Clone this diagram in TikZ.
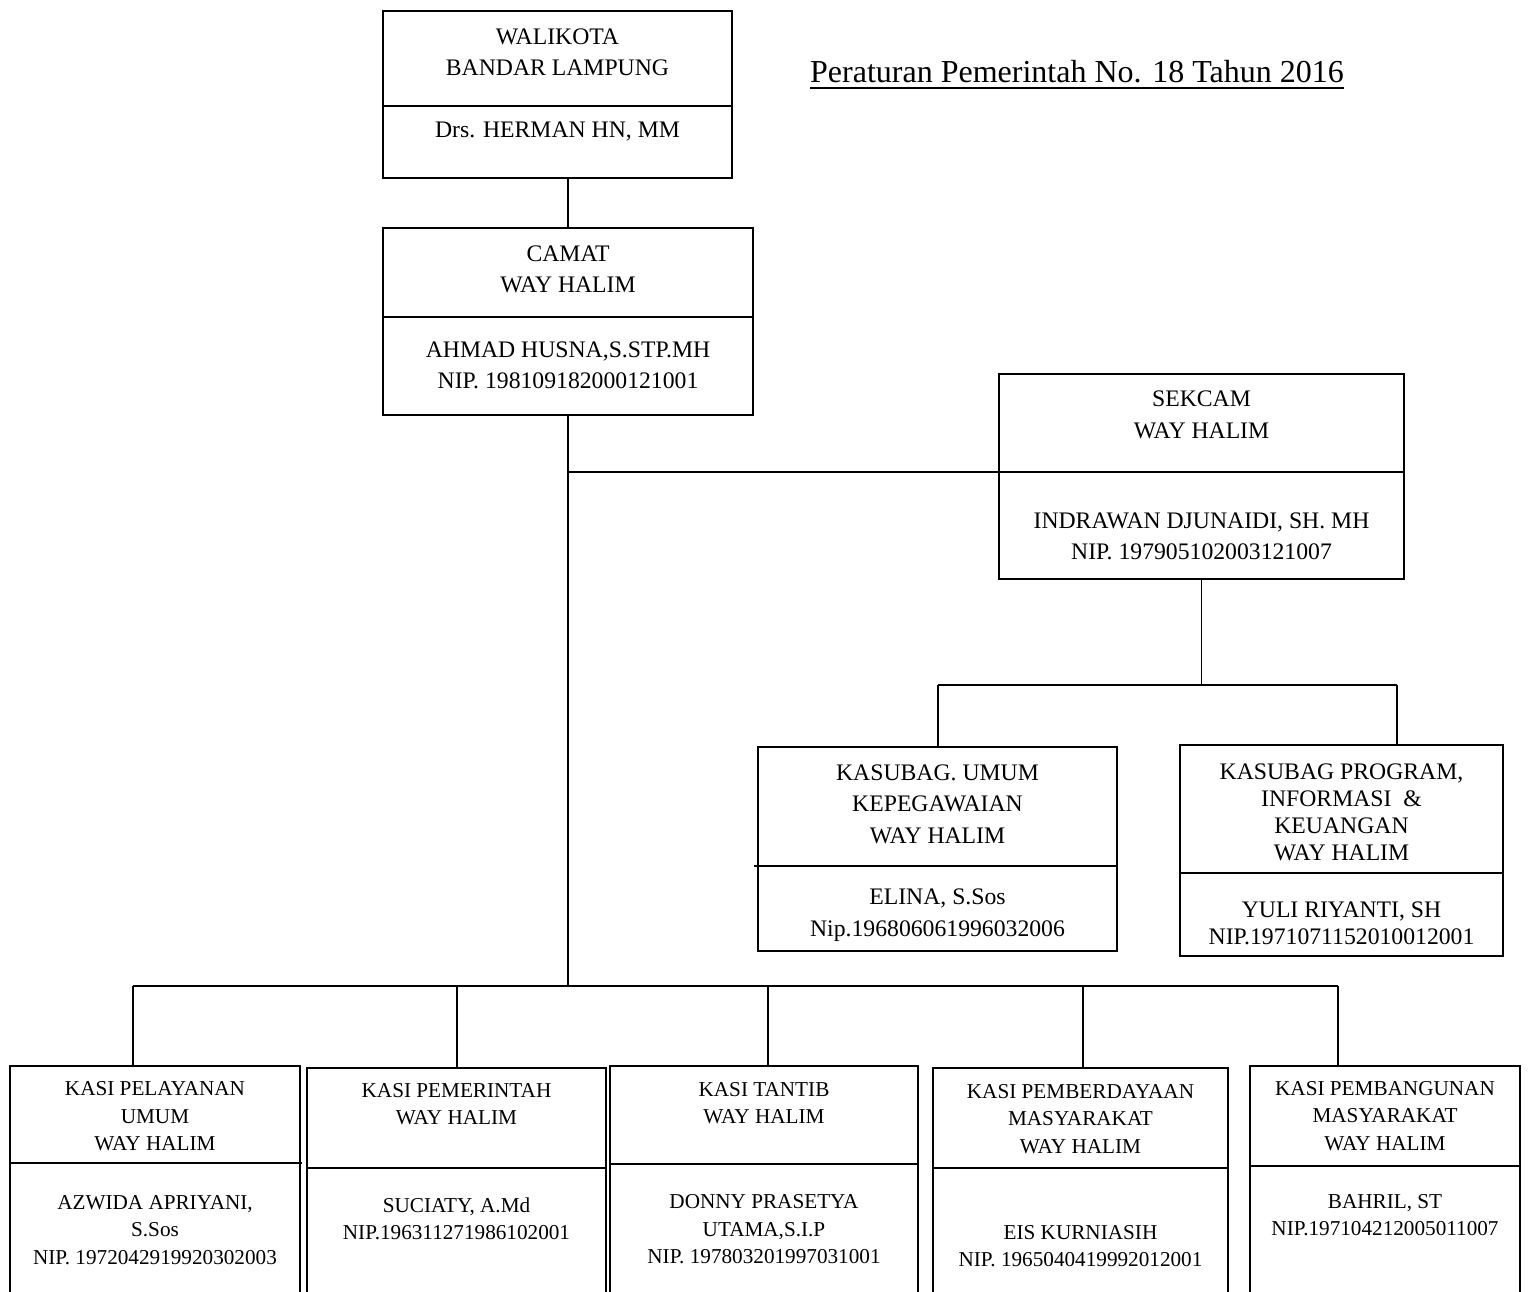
\documentclass[tikz,border=0pt]{standalone}
\usepackage{fontspec}
\setmainfont{Liberation Serif}
\usepackage[dvipsnames]{xcolor}
\usepackage{tikz}
\usetikzlibrary{calc, positioning}
\tikzset{
  box/.style={draw, line width=1.8pt, anchor=north west, inner sep=0pt, outer sep=0pt},
  garis/.style={line width=1.8pt},
  txt/.style={align=center, inner sep=0pt, font=\fontsize{23.7}{31.5}\selectfont},
  txtr/.style={align=center, inner sep=0pt, font=\fontsize{23.7}{27}\selectfont},
  txts/.style={align=center, inner sep=0pt, font=\fontsize{21.2}{27.5}\selectfont},
}

\begin{document}
\begin{tikzpicture}[x=1pt, y=-1pt]
  \useasboundingbox (0,0) rectangle (1530,1291);
  \clip (0,0) rectangle (1530,1291);

  % judul
  \node[inner sep=0pt, anchor=base, font=\fontsize{32}{36}\selectfont] (judul) at (1077,82)
    {Peraturan Pemerintah No. 18 Tahun 2016};
  \draw[line width=2pt] ([yshift=-6pt]judul.base west) -- ([yshift=-6pt]judul.base east);

  % walikota
  \node[box, minimum width=349pt, minimum height=167pt] (wali) at (383,11) {};
  \draw[garis] (wali.west |- 0,106) -- (wali.east |- 0,106);
  \node[txt] (wali-jab) at (wali.north |- 0,52.5) {WALIKOTA\\BANDAR LAMPUNG};
  \node[txt] (wali-nama) at (wali.north |- 0,131) {Drs. HERMAN HN, MM};

  % camat
  \node[box, minimum width=370pt, minimum height=187pt] (camat) at (383,228) {};
  \draw[garis] (camat.west |- 0,317) -- (camat.east |- 0,317);
  \node[txt] (camat-jab) at (camat.north |- 0,269.5) {CAMAT\\WAY HALIM};
  \node[txt] (camat-nama) at (camat.north |- 0,365.5) {AHMAD HUSNA,S.STP.MH\\NIP. 198109182000121001};

  % sekcam
  \node[box, minimum width=405pt, minimum height=205pt] (sekcam) at (999,374) {};
  \draw[garis] (sekcam.west |- 0,472) -- (sekcam.east |- 0,472);
  \node[txt] (sekcam-jab) at (sekcam.north |- 0,415) {SEKCAM\\WAY HALIM};
  \node[txt] (sekcam-nama) at (sekcam.north |- 0,536.5) {INDRAWAN DJUNAIDI, SH. MH\\NIP. 197905102003121007};

  % kasubag
  \node[box, minimum width=359pt, minimum height=204pt] (sbumum) at (758,747) {};
  \draw[garis] (754,866) -- (sbumum.east |- 0,866);
  \node[txt] (sbumum-jab) at (sbumum.north |- 0,804) {KASUBAG. UMUM\\KEPEGAWAIAN\\WAY HALIM};
  \node[txt] (sbumum-nama) at (sbumum.north |- 0,915) {ELINA, S.Sos\\Nip.196806061996032006};

  \node[box, minimum width=323pt, minimum height=211pt] (sbprog) at (1180,745) {};
  \draw[garis] (sbprog.west |- 0,873) -- (sbprog.east |- 0,873);
  \node[txtr] (sbprog-jab) at (sbprog.north |- 0,812.5) {KASUBAG PROGRAM,\\INFORMASI\ \ \&\\KEUANGAN\\WAY HALIM};
  \node[txtr] (sbprog-nama) at (sbprog.north |- 0,923) {YULI RIYANTI, SH\\NIP.1971071152010012001};

  % kasi
  \node[box, minimum width=290pt, minimum height=240pt] (kasi1) at (10,1066) {};
  \draw[garis] (kasi1.west |- 0,1163) -- (302,1163);
  \node[txts] (kasi1-jab) at (kasi1.north |- 0,1116.5) {KASI PELAYANAN\\UMUM\\WAY HALIM};
  \node[txts] (kasi1-nama) at (kasi1.north |- 0,1230) {AZWIDA APRIYANI,\\S.Sos\\NIP. 1972042919920302003};

  \node[box, minimum width=299pt, minimum height=240pt] (kasi2) at (307,1068) {};
  \draw[garis] (kasi2.west |- 0,1168) -- (kasi2.east |- 0,1168);
  \node[txts] (kasi2-jab) at (kasi2.north |- 0,1104) {KASI PEMERINTAH\\WAY HALIM};
  \node[txts] (kasi2-nama) at (kasi2.north |- 0,1219) {SUCIATY, A.Md\\NIP.196311271986102001};

  \node[box, minimum width=308pt, minimum height=240pt] (kasi3) at (610,1066) {};
  \draw[garis] (kasi3.west |- 0,1164) -- (kasi3.east |- 0,1164);
  \node[txts] (kasi3-jab) at (kasi3.north |- 0,1103) {KASI TANTIB\\WAY HALIM};
  \node[txts] (kasi3-nama) at (kasi3.north |- 0,1229.5) {DONNY PRASETYA\\UTAMA,S.I.P\\NIP. 197803201997031001};

  \node[box, minimum width=295pt, minimum height=240pt] (kasi4) at (933,1068) {};
  \draw[garis] (kasi4.west |- 0,1168) -- (kasi4.east |- 0,1168);
  \node[txts] (kasi4-jab) at (kasi4.north |- 0,1119) {KASI PEMBERDAYAAN\\MASYARAKAT\\WAY HALIM};
  \node[txts] (kasi4-nama) at (kasi4.north |- 0,1246) {EIS KURNIASIH\\NIP. 1965040419992012001};

  \node[box, minimum width=270pt, minimum height=240pt] (kasi5) at (1250,1066) {};
  \draw[garis] (kasi5.west |- 0,1166) -- (kasi5.east |- 0,1166);
  \node[txts] (kasi5-jab) at (kasi5.north |- 0,1116) {KASI PEMBANGUNAN\\MASYARAKAT\\WAY HALIM};
  \node[txts] (kasi5-nama) at (kasi5.north |- 0,1215) {BAHRIL, ST\\NIP.197104212005011007};

  % garis
  \coordinate (sb-l) at (938,685);
  \coordinate (sb-r) at (1397,685);
  \coordinate (bus-1) at (133,986);
  \coordinate (bus-2) at (457,986);
  \coordinate (bus-3) at (768,986);
  \coordinate (bus-4) at (1083,986);
  \coordinate (bus-5) at (1338,986);

  \draw[garis] (camat.north) -- (camat.north |- wali.south);
  \draw[garis] (camat.south) -- (camat.south |- bus-1);
  \draw[garis] (camat.south |- 0,472) -- (sekcam.west |- 0,472);
  \draw[garis] (sekcam.south) -- (sekcam.south |- sb-l);
  \draw[garis] (sb-l) -- (sb-r);
  \draw[garis] (sb-l) -- (sb-l |- sbumum.north);
  \draw[garis] (sb-r) -- (sb-r |- sbprog.north);
  \draw[garis] (bus-1) -- (bus-5);
  \draw[garis] (bus-1) -- (bus-1 |- kasi1.north);
  \draw[garis] (bus-2) -- (bus-2 |- kasi2.north);
  \draw[garis] (bus-3) -- (bus-3 |- kasi3.north);
  \draw[garis] (bus-4) -- (bus-4 |- kasi4.north);
  \draw[garis] (bus-5) -- (bus-5 |- kasi5.north);
\end{tikzpicture}
\end{document}
